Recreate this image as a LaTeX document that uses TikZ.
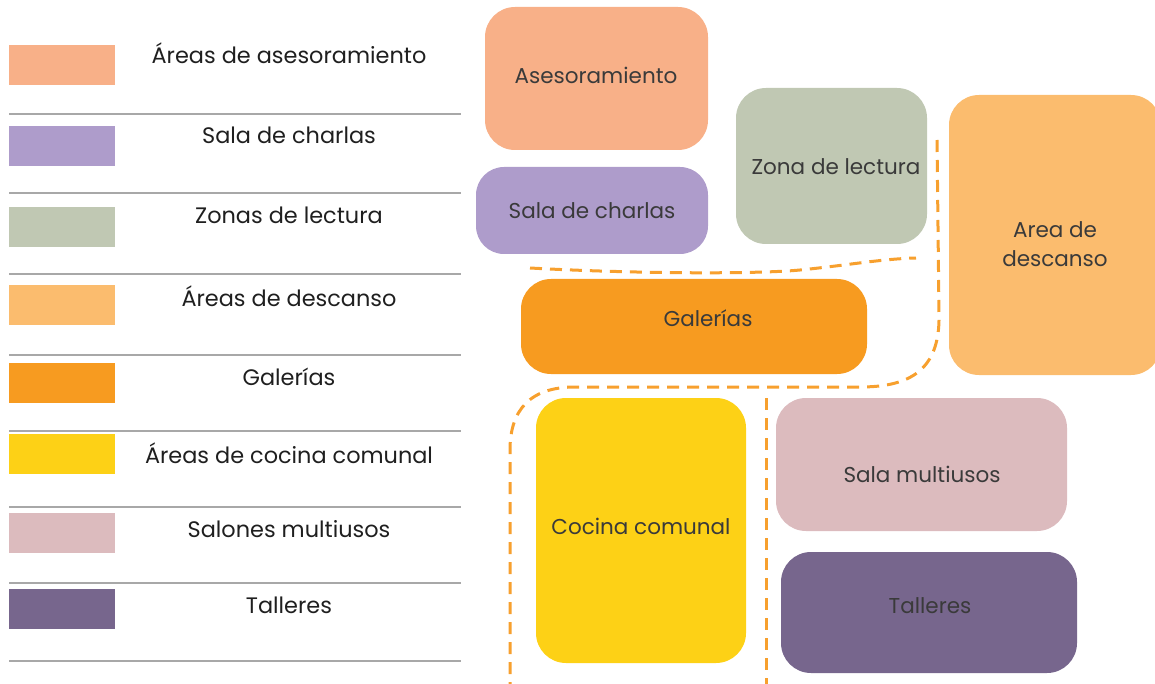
\documentclass[tikz,border=0pt]{standalone}
\usepackage{fontspec}
\setmainfont{Poppins}
\definecolor{cAses}{HTML}{F8B088}
\definecolor{cChar}{HTML}{AE9CCB}
\definecolor{cLect}{HTML}{C0C8B3}
\definecolor{cDesc}{HTML}{FBBC6E}
\definecolor{cGal}{HTML}{F79B20}
\definecolor{cCoc}{HTML}{FDD116}
\definecolor{cMult}{HTML}{DCBBBE}
\definecolor{cTall}{HTML}{77668D}
\definecolor{cDash}{HTML}{F7A02E}
\definecolor{cLine}{HTML}{A8A8A8}
\definecolor{cText}{HTML}{3A3A3A}
\begin{document}
\begin{tikzpicture}[x=1pt,y=-1pt,
  room/.style={draw=none,inner sep=0pt,rounded corners=30pt,text=cText,align=center,font=\fontsize{21.5}{29}\selectfont},
  roomtext/.style={text=cText,font=\fontsize{21.5}{26}\selectfont},
  swatch/.style={draw=none,inner sep=0pt,minimum width=106pt,minimum height=40pt,anchor=north west},
  legtext/.style={text=black!88,font=\fontsize{22.4}{26}\selectfont,anchor=center},
  sep/.style={draw=cLine,line width=2pt},
  path/.style={draw=cDash,line width=3pt,dash pattern=on 12pt off 8pt}]
\useasboundingbox (0,0) rectangle (1155,684);
\clip (0,0) rectangle (1155,684);
% legend
\foreach \y/\c/\t/\ty [count=\i] in {45/cAses/{Áreas de asesoramiento}/53,
  126/cChar/{Sala de charlas}/135,
  207/cLect/{Zonas de lectura}/215,
  285/cDesc/{Áreas de descanso}/296,
  363/cGal/{Galerías}/377,
  434/cCoc/{Áreas de cocina comunal}/453,
  513/cMult/{Salones multiusos}/529,
  589/cTall/{Talleres}/605}{
  \node[swatch,fill=\c] (sw\i) at (9,\y) {};
  \node[legtext] (lt\i) at (289,\ty) {\t};
}
\foreach \y [count=\i] in {114,193,274,355,431,507,583,661}{
  \coordinate (la\i) at (9,\y);
  \coordinate (lb\i) at (461,\y);
  \draw[sep] (la\i) -- (lb\i);
}
% rooms
\node[room,fill=cAses,minimum width=223pt,minimum height=143pt] (ases) at (596.5,78.5) {};
\node[roomtext] (asest) at (596,75) {Asesoramiento};
\node[room,fill=cChar,minimum width=232pt,minimum height=87pt,rounded corners=28pt] (char) at (592,210.5) {Sala de charlas};
\node[room,fill=cLect,minimum width=191pt,minimum height=156pt] (lect) at (831.5,166) {};
\node[roomtext] (lectt) at (836,167) {Zona de lectura};
\node[room,fill=cDesc,minimum width=212pt,minimum height=280pt] (desc) at (1055,235) {};
\node[room,text=cText] (desct) at (1055,244) {Area de\\descanso};
\node[room,fill=cGal,minimum width=346pt,minimum height=95pt] (gal) at (694,326.5) {};
\node[roomtext] (galt) at (708,318) {Galerías};
\node[room,fill=cCoc,minimum width=210pt,minimum height=265pt] (coc) at (641,530.5) {};
\node[roomtext] (coct) at (641,526) {Cocina comunal};
\node[room,fill=cMult,minimum width=291pt,minimum height=133pt] (mult) at (921.5,464.5) {};
\node[roomtext] (multt) at (922,474) {Sala multiusos};
\node[room,fill=cTall,minimum width=296pt,minimum height=121pt] (tall) at (929,612.5) {};
\node[roomtext] (tallt) at (930,606) {Talleres};
% dashed circulation lines
\draw[path] (530,268) .. controls (640,274) and (760,274) .. (800,270) .. controls (850,265) and (880,259) .. (916,258);
\draw[path] (937,140) -- (939,315) .. controls (940,370) and (910,387) .. (860,387) -- (575,387) .. controls (530,387) and (510,410) .. (510,450) -- (510,690);
\draw[path] (766,398) -- (766,690);
\end{tikzpicture}
\end{document}
